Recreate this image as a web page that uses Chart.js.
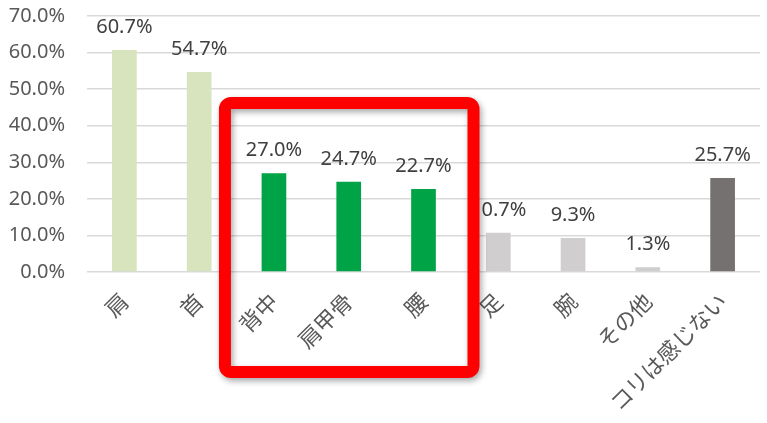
<!DOCTYPE html>
<html>
<head>
<meta charset="utf-8">
<script src="https://cdn.jsdelivr.net/npm/chart.js@4/dist/chart.umd.min.js"></script>
<style>
  html, body { margin: 0; padding: 0; background: #fff; }
  #wrap { width: 767px; height: 423px; position: relative; }
</style>
</head>
<body>
<div id="wrap"><canvas id="chart"></canvas></div>
<script>
// data
const categories = ['肩', '首', '背中', '肩甲骨', '腰', '足', '腕', 'その他', 'コリは感じない'];
const values = [60.7, 54.7, 27.0, 24.7, 22.7, 10.7, 9.3, 1.3, 25.7];
const bar_colors = ['#d7e4bd', '#d7e4bd', '#00a345', '#00a345', '#00a345',
                    '#d0cece', '#d0cece', '#d0cece', '#767171'];
const y_ticks = [0, 10, 20, 30, 40, 50, 60, 70];
const highlight = [2, 4]; // first and last highlighted category

const FONT = "'Noto Sans', 'Noto Sans CJK JP', sans-serif";

// value labels above each bar
const valueLabels = {
  id: 'valueLabels',
  afterDatasetsDraw(chart) {
    const ctx = chart.ctx;
    const meta = chart.getDatasetMeta(0);
    ctx.save();
    ctx.font = `20px ${FONT}`;
    ctx.fillStyle = '#404040';
    ctx.textAlign = 'center';
    ctx.textBaseline = 'alphabetic';
    meta.data.forEach((bar, i) => {
      ctx.fillText(values[i].toFixed(1) + '%', bar.x, bar.y - 17);
    });
    ctx.restore();
  }
};

// red rounded frame round the highlighted bars
const frame = {
  id: 'frame',
  afterDraw(chart) {
    const ctx = chart.ctx;
    const x = chart.scales.x, y = chart.scales.y;
    const left = x.getPixelForValue(highlight[0]) - 49;
    const right = x.getPixelForValue(highlight[1]) + 50;
    const top = y.getPixelForValue(46.2);
    const bottom = y.bottom + 100;
    ctx.save();
    ctx.shadowColor = 'rgba(0,0,0,0.35)';
    ctx.shadowBlur = 6;
    ctx.shadowOffsetX = 2;
    ctx.shadowOffsetY = 3;
    ctx.strokeStyle = '#ff0000';
    ctx.lineWidth = 12;
    ctx.beginPath();
    ctx.roundRect(left, top, right - left, bottom - top, 6);
    ctx.stroke();
    ctx.restore();
  }
};

new Chart(document.getElementById('chart'), {
  type: 'bar',
  data: {
    labels: categories,
    datasets: [{
      data: values,
      backgroundColor: bar_colors,
      borderWidth: 0,
      categoryPercentage: 1,
      barPercentage: 0.33,
    }]
  },
  options: {
    responsive: true,
    maintainAspectRatio: false,
    animation: false,
    layout: { padding: { left: 0, right: 7, top: 16, bottom: 0 } },
    plugins: { legend: { display: false }, tooltip: { enabled: false } },
    scales: {
      x: {
        grid: { display: false, drawTicks: false },
        border: { display: false },
        afterFit(axis) {
          axis.height = 151;
          axis.paddingLeft = 0;
          axis.paddingRight = 0;
        },
        ticks: {
          minRotation: 45, maxRotation: 45,
          color: '#595959',
          padding: 16,
          font: { family: "'Noto Sans CJK JP', sans-serif", size: 22 },
        }
      },
      y: {
        min: 0, max: 70,
        afterBuildTicks(axis) { axis.ticks = y_ticks.map(v => ({ value: v })); },
        afterFit(axis) {
          axis.width = 87;
          axis.paddingTop = 0;
          axis.paddingBottom = 0;
        },
        grid: { color: '#d9d9d9', lineWidth: 1.5, drawTicks: false },
        border: { display: false },
        ticks: {
          color: '#595959',
          padding: 22,
          font: { family: FONT, size: 20 },
          callback: v => v.toFixed(1) + '%',
        }
      }
    }
  },
  plugins: [valueLabels, frame]
});
</script>
</body>
</html>
